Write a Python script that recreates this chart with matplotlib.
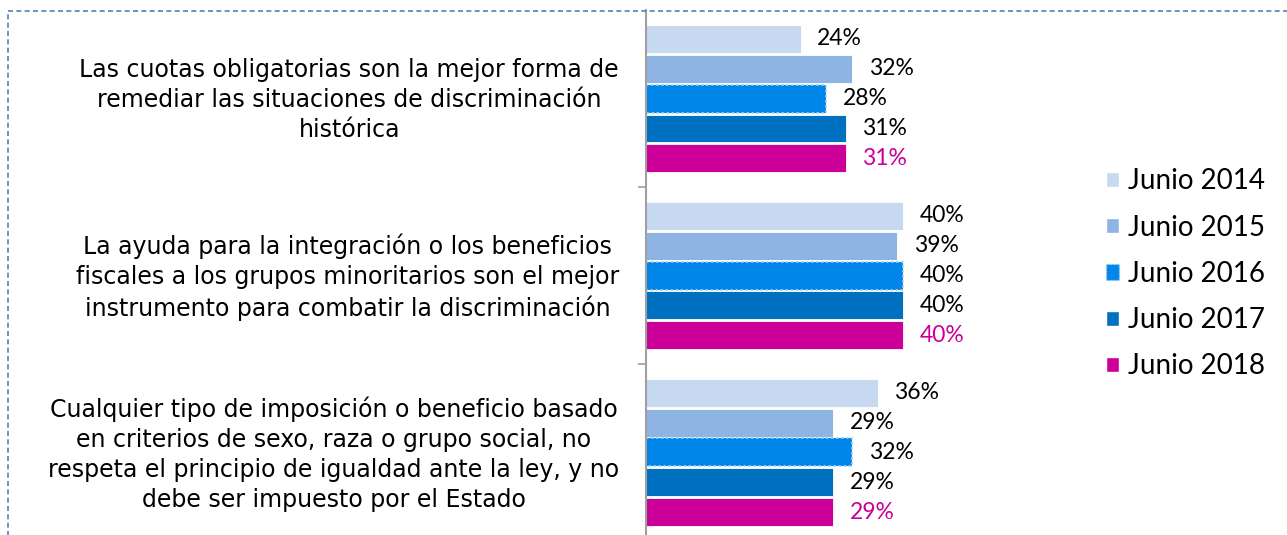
import numpy as np
import matplotlib.pyplot as plt
from matplotlib.patches import Rectangle, Patch

categories = [
    "Las cuotas obligatorias son la mejor forma de\nremediar las situaciones de discriminación\nhistórica",
    "La ayuda para la integración o los beneficios\nfiscales a los grupos minoritarios son el mejor\ninstrumento para combatir la discriminación",
    "Cualquier tipo de imposición o beneficio basado\nen criterios de sexo, raza o grupo social, no\nrespeta el principio de igualdad ante la ley, y no\ndebe ser impuesto por el Estado",
]
series = ["Junio 2014", "Junio 2015", "Junio 2016", "Junio 2017", "Junio 2018"]
values = {
    "Junio 2014": [24, 40, 36],
    "Junio 2015": [32, 39, 29],
    "Junio 2016": [28, 40, 32],
    "Junio 2017": [31, 40, 29],
    "Junio 2018": [31, 40, 29],
}
colors = ["#C6D9F1", "#8EB4E3", "#0085E8", "#0070C0", "#CC0099"]
label_colors = ["black", "black", "black", "black", "#CC0099"]

fig = plt.figure(figsize=(12.87, 5.35), dpi=100)
ax = fig.add_axes([0.502, -0.011, 0.300, 0.992])

pitch = 0.169
bh = 0.158
y = np.arange(len(categories))
for i, s in enumerate(series):
    pos = y - 2 * pitch + i * pitch
    vals = np.array(values[s]) / 100
    if s == "Junio 2016":
        ax.barh(pos, vals, height=bh, color=colors[i], edgecolor="#9FD0F8",
                linestyle=(0, (1.5, 1.5)), linewidth=1.2)
    else:
        ax.barh(pos, vals, height=bh, color=colors[i], edgecolor="white", linewidth=0.6)
    for p, v in zip(pos, vals):
        ax.text(v + 0.026, p, f"{round(v * 100)}%", va="center", ha="left",
                fontsize=16.5, color=label_colors[i], family="Lato")

ax.set_xlim(0, 0.6)
ax.set_ylim(2.5, -0.5)
ax.set_xticks([])
ax.set_yticks([0.5, 1.5])
ax.set_yticklabels([])
ax.tick_params(axis="y", direction="out", length=6, color="#A0A0A0", width=1.2)
for sp in ["top", "right", "bottom"]:
    ax.spines[sp].set_visible(False)
ax.spines["left"].set_color("#A0A0A0")
ax.spines["left"].set_linewidth(1.5)
ax.patch.set_alpha(0)

# category labels, block right edge fixed, lines centered
label_y = [100, 277, 454]
for c, ly in zip(categories, label_y):
    fig.text(619 / 1287, 1 - ly / 535, c, ha="right", va="center",
             multialignment="center", fontsize=17, linespacing=1.32)

handles = []
for i, s in enumerate(series):
    if s == "Junio 2016":
        handles.append(Patch(facecolor=colors[i], edgecolor="#9FD0F8", linestyle=":", label=s))
    else:
        handles.append(Patch(facecolor=colors[i], edgecolor="white", label=s))
fig.legend(handles=handles, loc="center left", bbox_to_anchor=(0.840, 0.488),
           frameon=False, prop={"family": "Lato", "size": 20}, handlelength=0.47,
           handleheight=0.47, handletextpad=0.33, labelspacing=0.73)

fig.patches.append(Rectangle((8 / 1287, -0.1), 1.2, 1 - 11 / 535 + 0.1,
                             transform=fig.transFigure, fill=False,
                             edgecolor="#4F81BD", linestyle=(0, (3, 2)),
                             linewidth=1.2, figure=fig))

fig.savefig("out.png", dpi=100)
